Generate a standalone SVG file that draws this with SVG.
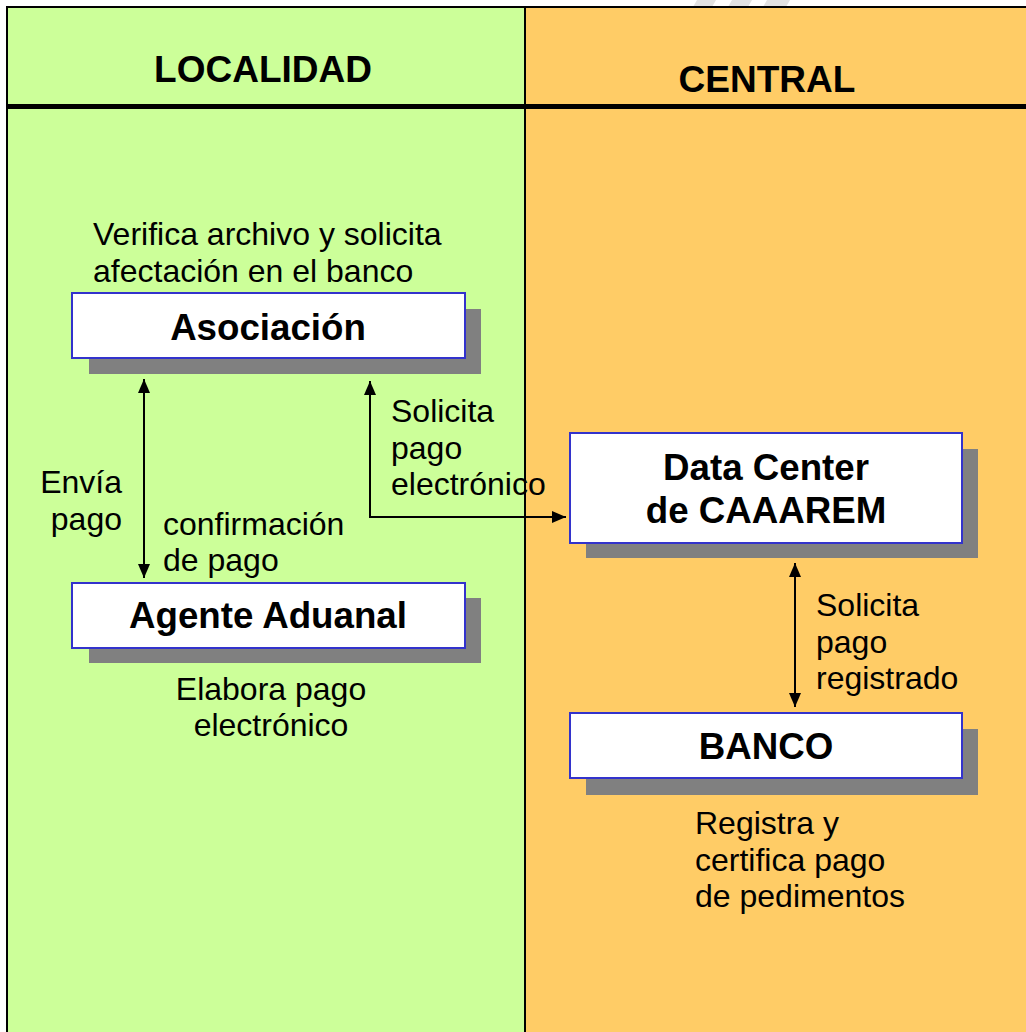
<svg xmlns="http://www.w3.org/2000/svg" width="1026" height="1032" viewBox="0 0 1026 1032">
<defs>
<style>
.t{font-family:"Liberation Sans",Arial,sans-serif;font-size:32px;fill:#000}
.b{font-family:"Liberation Sans",Arial,sans-serif;font-size:36.7px;font-weight:bold;fill:#000}
.h{font-family:"Liberation Sans",Arial,sans-serif;font-size:37px;font-weight:bold;fill:#000}
.box{fill:#fff;stroke:#3333CC;stroke-width:2}
.sh{fill:#808080}
.ln{stroke:#000;stroke-width:2;fill:none}
</style>
<marker id="ah" viewBox="0 0 14 12" refX="14" refY="6" markerWidth="14" markerHeight="12" markerUnits="userSpaceOnUse" orient="auto-start-reverse">
<path d="M0,0 L14,6 L0,12 Z" fill="#000"/>
</marker>
</defs>
<rect width="1026" height="1032" fill="#fff"/>
<g id="watermark" fill="#e2e2e2">
<polygon points="697,0 716,0 712,7 693,7"/>
<polygon points="732,0 752,0 748,7 728,7"/>
<polygon points="767,0 790,0 786,7 763,7"/>
</g>
<g id="lanes">
<rect x="7" y="7" width="518" height="1025" fill="#CCFF99"/>
<rect x="525" y="7" width="501" height="1025" fill="#FFCC66"/>
<line x1="7" y1="7" x2="1026" y2="7" stroke="#000" stroke-width="2"/>
<line x1="7" y1="6" x2="7" y2="1032" stroke="#000" stroke-width="2"/>
<line x1="525" y1="7" x2="525" y2="1032" stroke="#000" stroke-width="2"/>
<rect x="7" y="104" width="1019" height="5" fill="#000"/>
<text class="h" x="263" y="82" text-anchor="middle">LOCALIDAD</text>
<text class="h" x="767" y="92" text-anchor="middle">CENTRAL</text>
</g>
<g id="connectors">
<line class="ln" x1="144" y1="379" x2="144" y2="578" marker-start="url(#ah)" marker-end="url(#ah)"/>
<polyline class="ln" points="370,381 370,517 566,517" marker-start="url(#ah)" marker-end="url(#ah)"/>
<line class="ln" x1="795" y1="563" x2="795" y2="707" marker-start="url(#ah)" marker-end="url(#ah)"/>
</g>
<g id="asociacion">
<rect class="sh" x="89" y="309" width="392" height="65"/>
<rect class="box" x="72" y="293" width="393" height="65"/>
<text class="b" x="268" y="340" text-anchor="middle">Asociación</text>
</g>
<g id="agente">
<rect class="sh" x="89" y="598" width="392" height="65"/>
<rect class="box" x="72" y="583" width="393" height="65"/>
<text class="b" x="268" y="628" text-anchor="middle">Agente Aduanal</text>
</g>
<g id="datacenter">
<rect class="sh" x="586" y="449" width="392" height="109"/>
<rect class="box" x="570" y="433" width="392" height="110"/>
<text class="b" x="766" y="480" text-anchor="middle">Data Center</text>
<text class="b" x="766" y="523" text-anchor="middle">de CAAAREM</text>
</g>
<g id="banco">
<rect class="sh" x="586" y="729" width="392" height="66"/>
<rect class="box" x="570" y="713" width="392" height="65"/>
<text class="b" x="766" y="759" text-anchor="middle">BANCO</text>
</g>
<g id="labels">
<text class="t" x="93" y="245">Verifica archivo y solicita</text>
<text class="t" x="93" y="282">afectación en el banco</text>
<text class="t" x="122" y="493" text-anchor="end">Envía</text>
<text class="t" x="122" y="530" text-anchor="end">pago</text>
<text class="t" x="163" y="535">confirmación</text>
<text class="t" x="163" y="571">de pago</text>
<text class="t" x="271" y="700" text-anchor="middle">Elabora pago</text>
<text class="t" x="271" y="736" text-anchor="middle">electrónico</text>
<text class="t" x="391" y="422">Solicita</text>
<text class="t" x="391" y="459">pago</text>
<text class="t" x="391" y="495">electrónico</text>
<text class="t" x="816" y="616">Solicita</text>
<text class="t" x="816" y="653">pago</text>
<text class="t" x="816" y="689">registrado</text>
<text class="t" x="695" y="834">Registra y</text>
<text class="t" x="695" y="871">certifica pago</text>
<text class="t" x="695" y="907">de pedimentos</text>
</g>
</svg>
